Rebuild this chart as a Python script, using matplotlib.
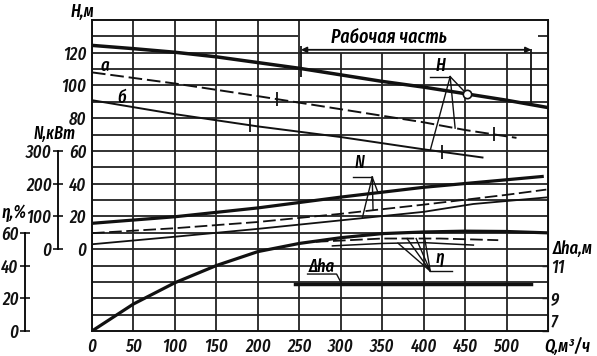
import numpy as np
import matplotlib
matplotlib.use('Agg')
import matplotlib.pyplot as plt

plt.rcParams['font.family'] = ['Fira Sans Extra Condensed', 'DejaVu Sans']
plt.rcParams['font.style'] = 'italic'
plt.rcParams['font.weight'] = 'medium'
plt.rcParams['font.size'] = 13

# ---- data read off the scanned characteristic ----
# head H, m (main curve and the two trimmed impellers "а", "б")
q_h = [0, 50, 100, 150, 200, 250, 300, 350, 400, 450, 500, 550]
h_main = [124.5, 122.5, 120.3, 117.5, 114, 110.5, 106.5, 102.5, 99, 95, 91, 86.5]
q_a = [0, 100, 200, 300, 400, 450, 512]
h_a = [108, 101.2, 93.5, 85.5, 77.5, 72.8, 68]
q_b = [0, 100, 200, 300, 400, 471]
h_b = [91, 82.5, 75, 68.5, 61, 56]

# power N, kW
q_n = [0, 100, 200, 300, 400, 500, 543]
n_main = [79, 99, 126, 159, 189, 212, 222]
q_na = [0, 100, 200, 300, 400, 500, 548]
n_a = [49, 64, 83, 108, 136, 166, 182]
q_nb = [0, 100, 200, 300, 400, 460, 548]
n_b = [15, 38, 62, 88, 114, 138, 158]

# efficiency, %
q_eta = [0, 50, 100, 150, 200, 250, 300, 350, 400, 450, 500, 548]
eta_main = [0, 16.5, 29.5, 40, 48.5, 53.5, 57, 59.5, 60.5, 61, 60.8, 60]
q_eta_a = [270, 350, 420, 490]
eta_a = [54.5, 56.5, 56.5, 55.5]
q_eta_b = [290, 350, 400, 460]
eta_b = [52, 53.5, 54, 52.5]

# permissible cavitation reserve, m
q_dh = [245, 530]
dh_a = [9.9, 9.9]

x_ticks = [0, 50, 100, 150, 200, 250, 300, 350, 400, 450, 500]
h_ticks = [0, 20, 40, 60, 80, 100, 120]
n_ticks = [0, 100, 200, 300]
eta_ticks = [0, 20, 40, 60]
dh_ticks = [7, 9, 11]

work_range = [252, 530]
a_marks = [223, 485]
b_marks = [190, 422]
h_point = 452


# every scale is drawn in head units on the main axes
def n2h(n):
    return np.asarray(n, dtype=float) / 5.0


def h2n(h):
    return np.asarray(h, dtype=float) * 5.0


def eta2h(e):
    return np.asarray(e, dtype=float) - 50.0


def h2eta(h):
    return np.asarray(h, dtype=float) + 50.0


def dh2h(d):
    return (np.asarray(d, dtype=float) - 7.0) * 10.0 - 50.0


def h2dh(h):
    return (np.asarray(h, dtype=float) + 50.0) / 10.0 + 7.0


k = '#111111'
grid_c = '#222222'

fig = plt.figure(figsize=(5.97, 3.56), dpi=100)
ax = fig.add_axes([0.1541, 0.0702, 0.7638, 0.8736])
ax.set_xlim(0, 550)
ax.set_ylim(-50, 140)

# grid (the top band is left open for the "working range" caption)
ax.vlines([0, 50, 100, 150, 200, 250], -50, 140, color=grid_c, lw=1.3, zorder=1)
ax.vlines([300, 350, 400, 450, 500], -50, 120, color=grid_c, lw=1.3, zorder=1)
levels = [v for v in range(-40, 140, 10) if v != 130]
ax.hlines(levels, 0, 550, color=grid_c, lw=1.3, zorder=1)
ax.hlines([130, 130], [0, 538], [248, 550], color=grid_c, lw=1.3, zorder=1)

for s in ax.spines.values():
    s.set_linewidth(1.4)
    s.set_color(k)

# head curves
ax.plot(q_h, h_main, color=k, lw=2.5, zorder=3)
ax.plot(q_a, h_a, color=k, lw=1.4, dashes=(7, 2.5), zorder=3)
ax.plot(q_b, h_b, color=k, lw=1.4, zorder=3)
ax.plot(a_marks, np.interp(a_marks, q_a, h_a), ls='none', marker='|',
        ms=10, mew=1.3, color=k, zorder=3)
ax.plot(b_marks, np.interp(b_marks, q_b, h_b), ls='none', marker='|',
        ms=10, mew=1.3, color=k, zorder=3)
ax.plot(h_point, np.interp(h_point, q_h, h_main), 'o', mfc='white', mec=k,
        ms=6, mew=1.2, zorder=4)

# power curves
ax.plot(q_n, n2h(n_main), color=k, lw=2.3, zorder=3)
ax.plot(q_na, n2h(n_a), color=k, lw=1.3, dashes=(7, 2.5), zorder=3)
ax.plot(q_nb, n2h(n_b), color=k, lw=1.3, zorder=3)

# efficiency curves
ax.plot(q_eta, eta2h(eta_main), color=k, lw=2.3, zorder=3)
ax.plot(q_eta_a, eta2h(eta_a), color=k, lw=1.3, dashes=(7, 2.5), zorder=3)
ax.plot(q_eta_b, eta2h(eta_b), color=k, lw=1.1, zorder=3)

# cavitation reserve
ax.plot(q_dh, dh2h(dh_a), color=k, lw=2.5, zorder=3)

# working range bracket
y_lo = np.interp(work_range[1], q_h, h_main)
ax.vlines(work_range[0], 105, 124, color=k, lw=1.3, zorder=3)
ax.vlines(work_range[1], y_lo, 122.5, color=k, lw=1.3, zorder=3)
ax.annotate('', xy=(work_range[0], 121.8), xytext=(work_range[1], 121.8),
            arrowprops=dict(arrowstyle='<|-|>', color=k, lw=1.3,
                            mutation_scale=8, shrinkA=0, shrinkB=0))
ax.text(358, 129.5, 'Рабочая часть', ha='center', va='center', fontsize=14)


def leader(label, lab_xy, apex, bar_end, targets):
    ax.text(lab_xy[0], lab_xy[1], label, ha='center', va='center', fontsize=13)
    ax.plot([bar_end, apex[0]], [apex[1], apex[1]], color=k, lw=1.0, zorder=3)
    for tx, ty in targets:
        ax.plot([apex[0], tx], [apex[1], ty], color=k, lw=1.0, zorder=3)


leader('H', (420, 112), (432, 105.4), 408,
       [(h_point, np.interp(h_point, q_h, h_main)),
        (438, np.interp(438, q_a, h_a)),
        (408, np.interp(408, q_b, h_b))])
leader('N', (323, 52.5), (338, 44), 315,
       [(345, n2h(np.interp(345, q_n, n_main))),
        (339, n2h(np.interp(339, q_na, n_a))),
        (326, n2h(np.interp(326, q_nb, n_b)))])
leader('η', (420, -5.5), (408, -13.4), 434,
       [(369, eta2h(np.interp(369, q_eta_b, eta_b))),
        (380, eta2h(np.interp(380, q_eta_a, eta_a))),
        (391, eta2h(np.interp(391, q_eta_a, eta_a))),
        (400, eta2h(np.interp(400, q_eta, eta_main)))])
ax.text(277, -11, 'Δha', ha='center', va='center', fontsize=13)
ax.plot([260, 295, 301], [-15.2, -15.2, dh2h(dh_a[0])], color=k, lw=1.0, zorder=3)

ax.text(16, 112, 'а', ha='center', va='center', fontsize=13)
ax.text(36, 92.5, 'б', ha='center', va='center', fontsize=13)

# main scales
ax.set_xticks(x_ticks)
ax.set_yticks(h_ticks)
ax.tick_params(axis='both', length=0, colors=k)
ax.tick_params(axis='y', pad=4)
ax.tick_params(axis='x', pad=5)
ax.text(-0.02, 1.026, 'H,м', transform=ax.transAxes, ha='center', va='center')
ax.text(546, -0.051, 'Q,м³/ч', transform=ax.get_xaxis_transform(),
        ha='left', va='center')

# power scale
sec_n = ax.secondary_yaxis(-0.0746, functions=(h2n, n2h))
sec_n.set_yticks(n_ticks)
sec_n.spines['left'].set_bounds(0, 300)
sec_n.spines['left'].set_linewidth(1.3)
sec_n.tick_params(direction='inout', length=7, width=1.2, pad=1, colors=k)
ax.text(-0.081, n2h(352), 'N,кВт', transform=ax.get_yaxis_transform(),
        ha='center', va='center', fontsize=12.5)

# efficiency scale
sec_e = ax.secondary_yaxis(-0.147, functions=(h2eta, eta2h))
sec_e.set_yticks(eta_ticks)
sec_e.spines['left'].set_bounds(0, 60)
sec_e.spines['left'].set_linewidth(1.3)
sec_e.tick_params(direction='inout', length=7, width=1.2, pad=1, colors=k)
ax.text(-0.171, eta2h(72), 'η,%', transform=ax.get_yaxis_transform(),
        ha='center', va='center')

# cavitation scale
sec_d = ax.secondary_yaxis('right', functions=(h2dh, dh2h))
sec_d.set_yticks(dh_ticks)
sec_d.tick_params(direction='in', length=4, width=1.0, pad=2, colors=k)
for t in sec_d.get_yticklabels():
    if t.get_text() == '7':
        t.set_va('bottom')
ax.text(1.011, dh2h(12.0), 'Δha,м', transform=ax.get_yaxis_transform(),
        ha='left', va='center')

fig.savefig('out.png', dpi=100)
